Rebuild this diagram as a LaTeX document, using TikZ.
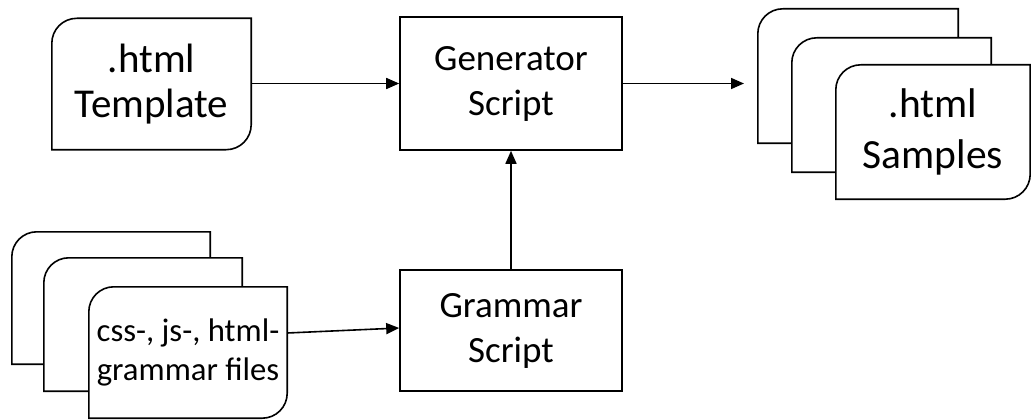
\documentclass[tikz,border=0pt]{standalone}
\usepackage{fontspec}
\setmainfont{Carlito}
\usetikzlibrary{arrows.meta,backgrounds}
\tikzset{
  blk/.style={draw=none,inner sep=0pt,align=center,font=\fontsize{37}{45}\selectfont},
  plainbox/.style={blk,draw,line width=1.6pt},
  conn/.style={line width=1.6pt,-{Triangle[length=13pt,width=11pt]}},
  outline/.style={line width=1.6pt,fill=white},
}
\newcommand\diagshape[2]{%
  \draw[outline] ([xshift=#2]#1.north west) -- (#1.north east) -- ([yshift=#2]#1.south east)
    arc[start angle=0,end angle=-90,radius=#2] -- (#1.south west) -- ([yshift=-#2]#1.north west)
    arc[start angle=180,end angle=90,radius=#2] -- cycle;}
\begin{document}
\begin{tikzpicture}[x=1pt,y=1pt]
\useasboundingbox (0,0) rectangle (1031,-420);
% Template
\node[blk,minimum width=199pt,minimum height=131pt,font=\fontsize{41}{45}\selectfont] (tpl) at (151.5,-84) {.html\\Template};
% Generator
\node[plainbox,minimum width=222pt,minimum height=133pt] (gen) at (511,-83.5) {Generator\\Script};
% Grammar script
\node[plainbox,minimum width=222pt,minimum height=121pt] (gram) at (511,-330.5) {Grammar\\Script};
% Samples stack
\node[blk,minimum width=200pt,minimum height=134pt] (s1) at (858,-76) {};
\node[blk,minimum width=199pt,minimum height=134pt] (s2) at (891.5,-105) {};
\node[blk,minimum width=194pt,minimum height=134pt,font=\fontsize{41.5}{51}\selectfont] (s3) at (933,-132) {.html\\Samples};
% Grammar files stack
\node[blk,minimum width=198pt,minimum height=132pt] (f1) at (111,-298) {};
\node[blk,minimum width=198pt,minimum height=133pt] (f2) at (143,-324.5) {};
\node[blk,minimum width=198pt,minimum height=131pt,font=\fontsize{32.7}{39}\selectfont] (f3) at (188,-352.5) {css-, js-, html-\\grammar files};
\begin{scope}[on background layer]
  \diagshape{tpl}{25pt}
  \diagshape{s1}{25pt}
  \diagshape{s2}{25pt}
  \diagshape{s3}{25pt}
  \diagshape{f1}{25pt}
  \diagshape{f2}{25pt}
  \diagshape{f3}{25pt}
\end{scope}
% connectors
\coordinate (out) at (744,-83.5);
\draw[conn] (tpl.east |- gen.west) -- (gen.west);
\draw[conn] (gen.east) -- (out);
\draw[conn] (gram.north) -- (gen.south);
\draw[conn] ([yshift=19.5pt]f3.east) -- ([yshift=2.5pt]gram.west);
\end{tikzpicture}
\end{document}
